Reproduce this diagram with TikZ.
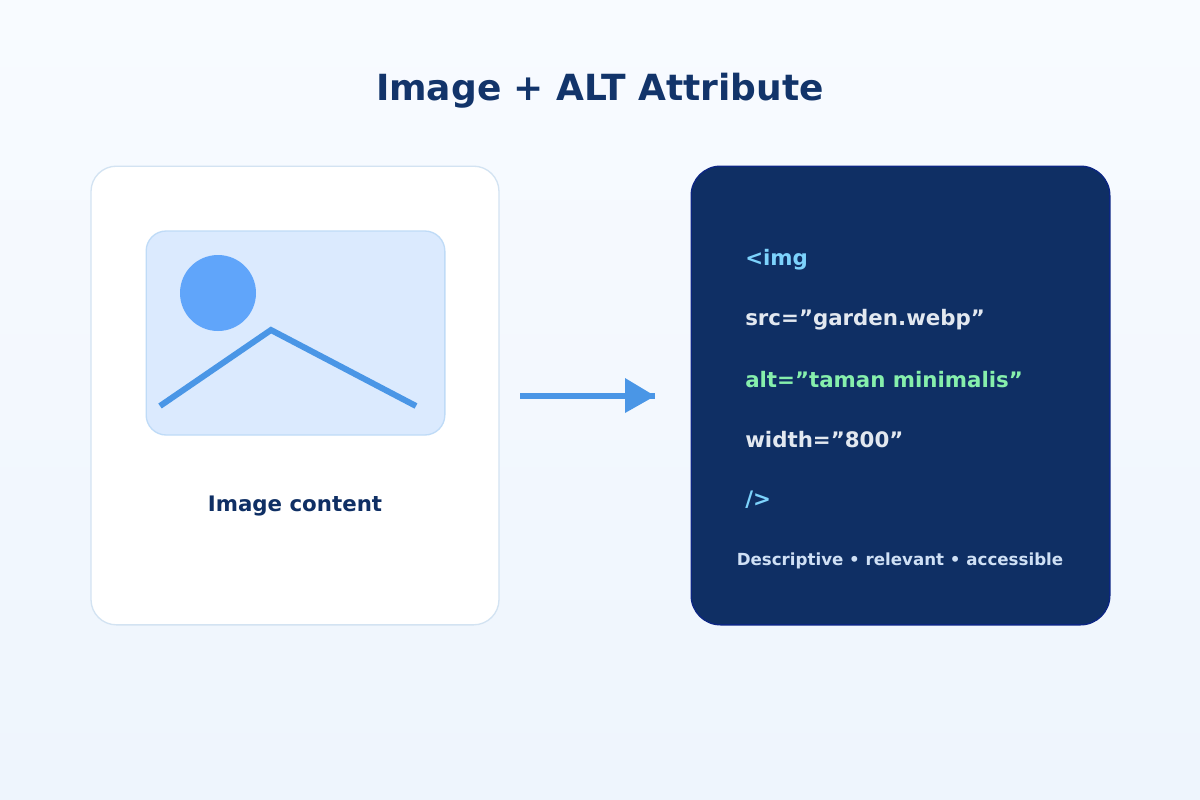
\documentclass[tikz,border=0pt]{standalone}
\usepackage{fontspec}
\setmainfont{DejaVu Sans}
\usetikzlibrary{shapes.geometric}
\definecolor{bgtop}{HTML}{F8FBFF}
\definecolor{bgbot}{HTML}{EEF5FD}
\definecolor{navy}{HTML}{0F2F64}
\definecolor{titlec}{HTML}{12346A}
\definecolor{cardline}{HTML}{D3E3F2}
\definecolor{photobg}{HTML}{DBEAFE}
\definecolor{photoline}{HTML}{BFDBF7}
\definecolor{sun}{HTML}{60A5FA}
\definecolor{mount}{HTML}{4A96E6}
\definecolor{tagc}{HTML}{7DD3FC}
\definecolor{attrc}{HTML}{E2E8F0}
\definecolor{altc}{HTML}{86EFAC}
\definecolor{footc}{HTML}{CFE0F5}
\tikzset{
  card/.style={draw=cardline,fill=white,line width=1pt,rounded corners=19pt,inner sep=0pt,minimum width=306pt,minimum height=344pt},
  code/.style={anchor=west,font=\bfseries\fontsize{16pt}{18pt}\selectfont,inner sep=0pt},
}
\begin{document}
\begin{tikzpicture}[x=0.75pt,y=-0.75pt]
\useasboundingbox (0,0) rectangle (1200,800);
\shade[top color=bgtop,bottom color=bgbot] (0,0) rectangle (1200,800);
\node[font=\bfseries\fontsize{27pt}{30pt}\selectfont,text=titlec] (title) at (600,91) {Image + ALT Attribute};
\node[card] (left) at (295,395.5) {};
\node[draw=photoline,fill=photobg,line width=1pt,rounded corners=15pt,minimum width=224pt,minimum height=153pt,inner sep=0pt] (photo) at (295.5,333) {};
\node[circle,fill=sun,minimum size=57pt,inner sep=0pt] (sunc) at (218,293) {};
\coordinate (m1) at (160,406); \coordinate (m2) at (271,330); \coordinate (m3) at (416,406);
\draw[mount,line width=4.5pt] (m1) -- (m2) -- (m3);
\node[font=\bfseries\fontsize{16pt}{18pt}\selectfont,text=navy] (lbl) at (295,506) {Image content};
\node[card,draw=navy!80!blue,fill=navy,rounded corners=22pt,minimum width=314pt] (right) at (900.5,395.5) {};
\node[code,text=tagc] (l1) at (745,260) {<img};
\node[code,text=attrc] (l2) at (745,320) {src="garden.webp"};
\node[code,text=altc] (l3) at (745,380) {alt="taman minimalis"};
\node[code,text=attrc] (l4) at (745,440) {width="800"};
\node[code,text=tagc] (l5) at (745,500) {/>};
\node[font=\bfseries\fontsize{12.5pt}{14pt}\selectfont,text=footc] (foot) at (900,561) {Descriptive • relevant • accessible};
\coordinate (a1) at (520,396); \coordinate (a2) at (655,396);
\draw[mount,line width=5pt] (a1) -- (a2);
\fill[mount] (625,378) -- (655,396) -- (625,413) -- cycle;
\end{tikzpicture}
\end{document}
